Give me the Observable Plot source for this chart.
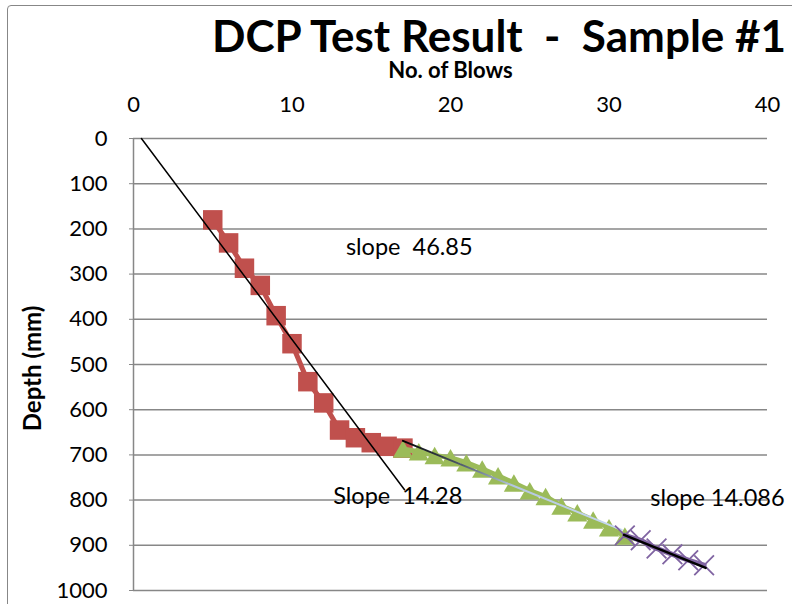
<!DOCTYPE html>
<html><head><meta charset="utf-8">
<script src="https://cdn.jsdelivr.net/npm/d3@7"></script>
<script src="https://cdn.jsdelivr.net/npm/@observablehq/plot@0.6"></script>
<style>
html,body{margin:0;padding:0;background:#fff;overflow:hidden;}
#wrap{position:relative;width:792px;height:604px;overflow:hidden;font-family:Lato,"Open Sans",sans-serif;}
#frame{position:absolute;left:7px;top:5px;width:900px;height:700px;border:1.5px solid #878787;border-radius:4px;box-sizing:border-box;}
#title{position:absolute;left:212px;top:20px;font-size:44px;font-weight:bold;white-space:pre;line-height:30px;color:#000;z-index:2;}
#chart{position:absolute;left:0;top:0;}
svg text{white-space:pre;}
</style>
</head><body>
<div id="wrap">
  <div id="frame"></div>
  <div id="title">DCP Test Result  -  Sample #1</div>
  <div id="chart"></div>
</div>
<script>
const redBlows = [5, 6, 7, 8, 9, 10, 11, 12, 13, 14, 15, 16, 17];
const redDepth = [180, 231, 287, 325, 392, 454, 538, 585, 645, 662, 673, 681, 685];
const greenBlows = [17, 18, 19, 20, 21, 22, 23, 24, 25, 26, 27, 28, 29, 30, 31];
const greenDepth = [687, 693, 701, 706, 717, 731, 746, 762, 779, 792, 813, 828, 844, 861, 879];
const purpleBlows = [31, 32, 33, 34, 35, 36];
const purpleDepth = [878, 889, 907, 920, 933, 944];
const trendRedBlows = [0.5, 17.1];
const trendRedDepth = [0, 777];
const trendGreenBlows = [17, 30.8];
const trendGreenDepth = [669, 866];
const trendPurpleBlows = [30.95, 36.1];
const trendPurpleDepth = [877, 950];
const xTicks = [0, 10, 20, 30, 40];
const yTicks = [0, 100, 200, 300, 400, 500, 600, 700, 800, 900, 1000];
const slopeLabels = ["slope  46.85", "Slope  14.28", "slope 14.086"];
const slopeBlows = [13.4, 12.6, 32.6];
const slopeDepth = [241, 791, 796];

const zip = (xs, ys) => xs.map((x, i) => ({x, y: ys[i]}));
const red = zip(redBlows, redDepth);
const green = zip(greenBlows, greenDepth);
const purple = zip(purpleBlows, purpleDepth);
const tRed = zip(trendRedBlows, trendRedDepth);
const tGreen = zip(trendGreenBlows, trendGreenDepth);
const tPurple = zip(trendPurpleBlows, trendPurpleDepth);
const labels = slopeLabels.map((t, i) => ({t, x: slopeBlows[i], y: slopeDepth[i]}));

const grid = "#878787";
const svg = Plot.plot({
  width: 792,
  height: 604,
  marginTop: 138,
  marginBottom: 14,
  marginLeft: 133,
  marginRight: 25,
  style: {fontFamily: "Lato, 'Open Sans', sans-serif", fontSize: "22px", color: "#000", background: "transparent", overflow: "visible"},
  x: {domain: [0, 40]},
  y: {domain: [0, 1000], reverse: true},
  marks: [
    Plot.gridY(yTicks.slice(1), {stroke: grid, strokeOpacity: 1, strokeWidth: 1.5}),
    Plot.ruleY([0], {stroke: grid, strokeWidth: 1.5}),
    Plot.ruleX([0], {stroke: grid, strokeWidth: 1.5}),
    Plot.axisX(xTicks, {anchor: "top", tickSize: 0, tickPadding: 27, label: null, fontSize: 22, tickFormat: d => String(d)}),
    Plot.axisY(yTicks, {anchor: "left", tickSize: 4, tickPadding: 22, label: null, stroke: grid, fontSize: 22, tickFormat: d => String(d)}),
    Plot.text(["No. of Blows"], {frameAnchor: "top", dy: -68, lineAnchor: "middle", fontWeight: "bold", fontSize: 22}),
    Plot.text(["Depth (mm)"], {frameAnchor: "left", dx: -100, dy: 4, rotate: -90, textAnchor: "middle", lineAnchor: "middle", fontWeight: "bold", fontSize: 24}),
    // red series
    Plot.line(red, {x: "x", y: "y", stroke: "#c0504d", strokeWidth: 5}),
    Plot.dot(red, {x: "x", y: "y", symbol: "square", r: 11, fill: "#c0504d"}),
    Plot.line(tRed, {x: "x", y: "y", stroke: "#000", strokeWidth: 1.5}),
    // green series
    Plot.line(green, {x: "x", y: "y", stroke: "#9bbb59", strokeWidth: 5}),
    Plot.dot(green, {x: "x", y: "y", symbol: "triangle", r: 7.5, dy: 3, fill: "#9bbb59"}),
    Plot.line(tGreen, {x: "x", y: "y", stroke: "url(#gtrend)", strokeWidth: 2}),
    // purple series
    Plot.line(purple, {x: "x", y: "y", stroke: "#8064a2", strokeWidth: 5}),
    Plot.dot(purple, {x: "x", y: "y", symbol: "times", r: 9, stroke: "#8064a2", strokeWidth: 1.8}),
    Plot.line(tPurple, {x: "x", y: "y", stroke: "#000", strokeWidth: 2.5}),
    // labels
    Plot.text(labels, {x: "x", y: "y", text: "t", textAnchor: "start", fontSize: 23.5})
  ]
});
const defs = d3.select(svg).insert("defs", ":first-child");
const g = defs.append("linearGradient").attr("id", "gtrend").attr("x1", "0").attr("x2", "1").attr("y1", "0").attr("y2", "1");
g.append("stop").attr("offset", "0%").attr("stop-color", "#000");
g.append("stop").attr("offset", "25%").attr("stop-color", "#4a5566");
g.append("stop").attr("offset", "50%").attr("stop-color", "#b4c6e0");
g.append("stop").attr("offset", "100%").attr("stop-color", "#c6d9f1");
document.getElementById("chart").appendChild(svg);
</script>
</body></html>
